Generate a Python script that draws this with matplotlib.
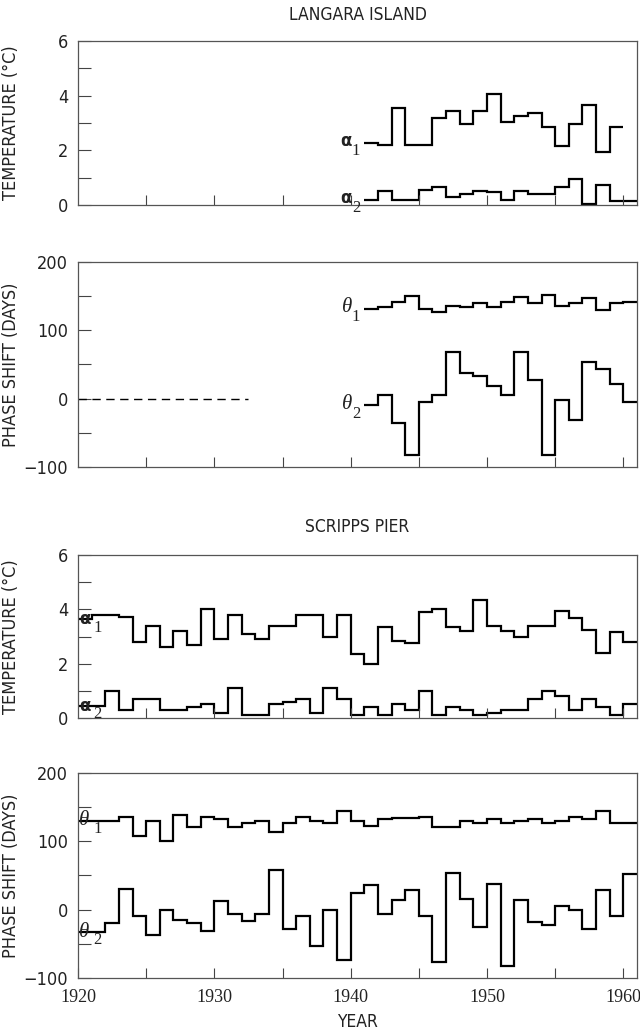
# Annual temperature amplitude and phase shift, Langara Island and Scripps Pier
import matplotlib
matplotlib.use("Agg")
import matplotlib.pyplot as plt
import numpy as np

# ---- data ----
scripps_years = np.arange(1920, 1961)
scripps_a1 = [3.63, 3.78, 3.78, 3.72, 2.8, 3.4, 2.6, 3.2, 2.7, 4.0,
              2.9, 3.8, 3.1, 2.9, 3.4, 3.4, 3.8, 3.8, 3.0, 3.8,
              2.35, 2.0, 3.35, 2.85, 2.75, 3.9, 4.0, 3.35, 3.2, 4.35,
              3.4, 3.2, 3.0, 3.4, 3.4, 3.95, 3.7, 3.25, 2.4, 3.15, 2.8]
scripps_a2 = [0.45, 0.45, 1.0, 0.3, 0.7, 0.7, 0.3, 0.3, 0.4, 0.5,
              0.2, 1.1, 0.1, 0.1, 0.5, 0.6, 0.7, 0.2, 1.1, 0.7,
              0.1, 0.4, 0.1, 0.5, 0.3, 1.0, 0.1, 0.4, 0.3, 0.12,
              0.2, 0.3, 0.3, 0.7, 1.0, 0.8, 0.3, 0.7, 0.4, 0.1, 0.5]
scripps_t1 = [130, 130, 130, 136, 108, 130, 100, 139, 121, 135,
              132, 121, 126, 130, 114, 126, 135, 129, 126, 145,
              129, 123, 132, 134, 134, 136, 121, 121, 130, 127,
              133, 127, 129, 133, 126, 130, 136, 133, 145, 127, 127]
scripps_t2 = [-33, -33, -20, 30, -10, -37, -1, -15, -20, -32,
              13, -6, -16, -6, 58, -28, -10, -53, 0, -73,
              25, 36, -6, 14, 28, -10, -77, 53, 15, -25,
              38, -82, 14, -18, -22, 5, -1, -28, 28, -10, 52]

langara_years = np.arange(1941, 1961)
langara_a1 = [2.28, 2.18, 3.55, 2.18, 2.18, 3.2, 3.45, 2.95, 3.45, 4.05,
              3.05, 3.25, 3.35, 2.85, 2.15, 2.95, 3.65, 1.95, 2.85]  # ends 1960
langara_a2 = [0.2, 0.5, 0.2, 0.2, 0.55, 0.67, 0.3, 0.4, 0.5, 0.47,
              0.2, 0.5, 0.4, 0.4, 0.65, 0.95, 0.05, 0.75, 0.15, 0.15]
langara_t1 = [131, 134, 142, 150, 131, 126, 135, 134, 140, 134,
              141, 148, 140, 151, 136, 140, 147, 129, 140, 142]
langara_t2 = [-10, 5, -35, -82, -5, 6, 68, 37, 33, 19,
              6, 68, 27, -82, -2, -32, 53, 44, 22, -5]
langara_dash_end = 1932.5   # dashed zero line in the phase panel

SANS = ["DejaVu Sans"]
SERIF = ["Liberation Serif", "DejaVu Serif"]
INK = "#222222"
COND = "condensed"

fig = plt.figure(figsize=(6.4, 10.34), dpi=100)
L, W = 0.1219, 0.8734
ax1 = fig.add_axes([L, 0.8017, W, 0.1586])
ax2 = fig.add_axes([L, 0.5484, W, 0.1983])
ax3 = fig.add_axes([L, 0.3056, W, 0.1576])
ax4 = fig.add_axes([L, 0.0542, W, 0.1983])


def setup(ax, kind, bottom=False):
    ax.set_xlim(1920, 1961)
    ax.set_xticks(np.arange(1925, 1961, 5))
    if kind == "temp":
        ax.set_ylim(0, 6)
        ax.set_yticks(np.arange(0, 7, 1))
        ax.set_yticklabels(["0", "", "2", "", "4", "", "6"],
                           family=SANS, fontstretch=COND, fontsize=13)
        ax.set_ylabel("TEMPERATURE (\u00b0C)", family=SANS, fontstretch=COND,
                      fontsize=13, color=INK)
    else:
        ax.set_ylim(-100, 200)
        ax.set_yticks(np.arange(-100, 201, 50))
        ax.set_yticklabels(["\u2212100", "", "0", "", "100", "", "200"],
                           family=SANS, fontstretch=COND, fontsize=13)
        ax.set_ylabel("PHASE SHIFT (DAYS)", family=SANS, fontstretch=COND,
                      fontsize=13, color=INK)
    ax.yaxis.set_label_coords(-0.103, 0.5)
    ax.tick_params(axis="y", direction="in", length=9, width=0.8, pad=7,
                   colors="#444444", labelcolor=INK)
    ax.tick_params(axis="x", direction="in", length=7, width=0.8, pad=8,
                   colors="#444444", labelcolor=INK, labelbottom=bottom)
    for s in ax.spines.values():
        s.set_color("#555555")
        s.set_linewidth(0.9)


def tag(ax, x, y, sym, sub, left=False, greek_bold=True):
    if greek_bold:
        kw = dict(family=["DejaVu Sans"], fontweight="bold", fontsize=12)
    else:
        kw = dict(family=SERIF, fontstyle="italic", fontsize=15)
    if left:
        ax.annotate(sym, (x, y), xytext=(1, 0), textcoords="offset points",
                    ha="left", va="center", color=INK, **kw)
        ax.annotate(sub, (x, y), xytext=(11, -6), textcoords="offset points",
                    ha="left", va="center", color=INK, family=SERIF, fontsize=12)
    else:
        ax.annotate(sym, (x, y), xytext=(-9, 1), textcoords="offset points",
                    ha="right", va="center", color=INK, **kw)
        ax.annotate(sub, (x, y), xytext=(-3, -6), textcoords="offset points",
                    ha="right", va="center", color=INK, family=SERIF, fontsize=12)


lw = 1.6
# Langara temperature
ax1.stairs(langara_a1, np.append(langara_years[:-1], 1960), baseline=None, color="k", lw=lw)
ax1.stairs(langara_a2, np.append(langara_years, 1961), baseline=None, color="k", lw=lw)
tag(ax1, 1941, langara_a1[0], "\u03b1", "1")
tag(ax1, 1941, langara_a2[0], "\u03b1", "2")
setup(ax1, "temp")

# Langara phase
ax2.stairs(langara_t1, np.append(langara_years, 1961), baseline=None, color="k", lw=lw)
ax2.stairs(langara_t2, np.append(langara_years, 1961), baseline=None, color="k", lw=lw)
ax2.plot([1920, langara_dash_end], [0, 0], color="k", lw=1.0, ls=(0, (6, 4)))
tag(ax2, 1941, langara_t1[0], "\u03b8", "1", greek_bold=False)
tag(ax2, 1941, langara_t2[0], "\u03b8", "2", greek_bold=False)
setup(ax2, "phase")

# Scripps temperature
edges_s = np.append(scripps_years, 1961)
ax3.stairs(scripps_a1, edges_s, baseline=None, color="k", lw=lw)
ax3.stairs(scripps_a2, edges_s, baseline=None, color="k", lw=lw)
tag(ax3, 1920, scripps_a1[0], "\u03b1", "1", left=True)
tag(ax3, 1920, scripps_a2[0], "\u03b1", "2", left=True)
setup(ax3, "temp")

# Scripps phase
ax4.stairs(scripps_t1, edges_s, baseline=None, color="k", lw=lw)
ax4.stairs(scripps_t2, edges_s, baseline=None, color="k", lw=lw)
tag(ax4, 1920, scripps_t1[0], "\u03b8", "1", left=True, greek_bold=False)
tag(ax4, 1920, scripps_t2[0], "\u03b8", "2", left=True, greek_bold=False)
setup(ax4, "phase", bottom=True)
ax4.set_xticks(np.arange(1920, 1961, 5))
ax4.set_xticklabels(["1920", "", "1930", "", "1940", "", "1950", "", "1960"],
                    family=SERIF, fontsize=13)

cx = L + W / 2
for y, s in [(0.9855, "LANGARA ISLAND"), (0.4903, "SCRIPPS PIER"), (0.0116, "YEAR")]:
    fig.text(cx, y, s, ha="center", va="center", family=SANS,
             fontstretch=COND, fontsize=12.5, color=INK)

fig.savefig("out.png", dpi=100)
